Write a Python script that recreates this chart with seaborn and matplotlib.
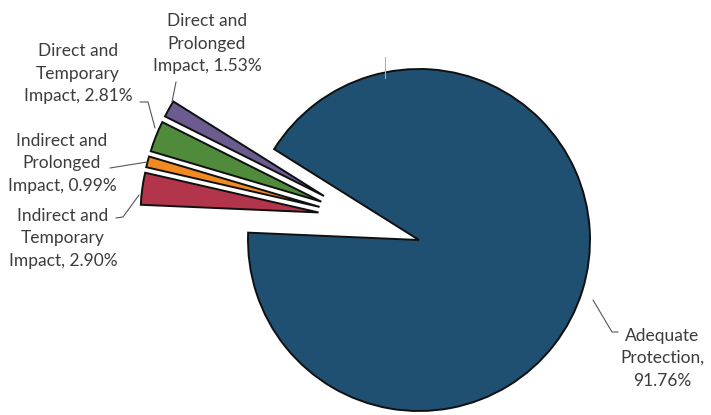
import matplotlib
matplotlib.use("Agg")
import matplotlib.pyplot as plt
import seaborn as sns
from matplotlib.lines import Line2D

# ---- data ----
categories = ["Direct and Prolonged Impact", "Direct and Temporary Impact",
              "Indirect and Prolonged Impact", "Indirect and Temporary Impact",
              "Adequate Protection"]
values = [1.53, 2.81, 0.99, 2.90, 91.76]
label_texts = ["Direct and\nProlonged\nImpact, 1.53%",
               "Direct and\nTemporary\nImpact, 2.81%",
               "Indirect and\nProlonged\nImpact, 0.99%",
               "Indirect and\nTemporary\nImpact, 2.90%",
               "Adequate\nProtection,\n91.76%"]
colors = ["#6b5b8f", "#4f8b3b", "#f28a22", "#b2354c", "#1f5072"]

# ---- style ----
sns.set_theme(style="white")
plt.rcParams['font.family'] = ['Lato', 'DejaVu Sans']

W, H = 711, 415
fig = plt.figure(figsize=(W / 100, H / 100), dpi=100)
ax = fig.add_axes([0, 0, 1, 1])

R = 171.0          # pie radius in pixels
cx, cy = 419, 240  # pie centre in pixels (from top-left)

explode = [0.27, 0.27, 0.27, 0.27, 0.0]
wedges, _ = ax.pie(values, colors=colors, startangle=147.9, counterclock=True,
                   explode=explode, radius=1.0,
                   wedgeprops=dict(edgecolor="#101010", linewidth=1.4))
# shift the exploded group of small slices together
gx, gy = -0.32, 0.125
for w in wedges[:4]:
    c = w.center
    w.set_center((c[0] + gx, c[1] + gy))
    w.set_radius(1.04)

ax.set_xlim(-cx / R, (W - cx) / R)
ax.set_ylim(-(H - cy) / R, cy / R)
ax.set_aspect('auto')
ax.axis('off')

def fx(px):
    return px / W

def fy(py):
    return 1 - py / H

text_color = "#3c3c3c"
label_pos = [(207, 44), (78, 74), (62, 163), (63, 238), (662, 358)]
for txt, (px, py) in zip(label_texts, label_pos):
    fig.text(fx(px), fy(py), txt, ha='center', va='center', fontsize=12.5,
             color=text_color, linespacing=1.5)

leaders = [
    [(176, 82), (172, 102)],
    [(140, 102), (148, 102), (155, 128)],
    [(110, 168), (147, 162)],
    [(116, 218), (123, 217), (139, 195)],
    [(593, 300), (612, 332), (618, 332)],
]
for pts in leaders:
    xs = [fx(p[0]) for p in pts]
    ys = [fy(p[1]) for p in pts]
    fig.add_artist(Line2D(xs, ys, transform=fig.transFigure, color="#555555", lw=0.8))
fig.add_artist(Line2D([fx(385), fx(385)], [fy(57), fy(78)], transform=fig.transFigure,
                      color="#b0b0b0", lw=0.8))

fig.savefig("out.png", dpi=100)
